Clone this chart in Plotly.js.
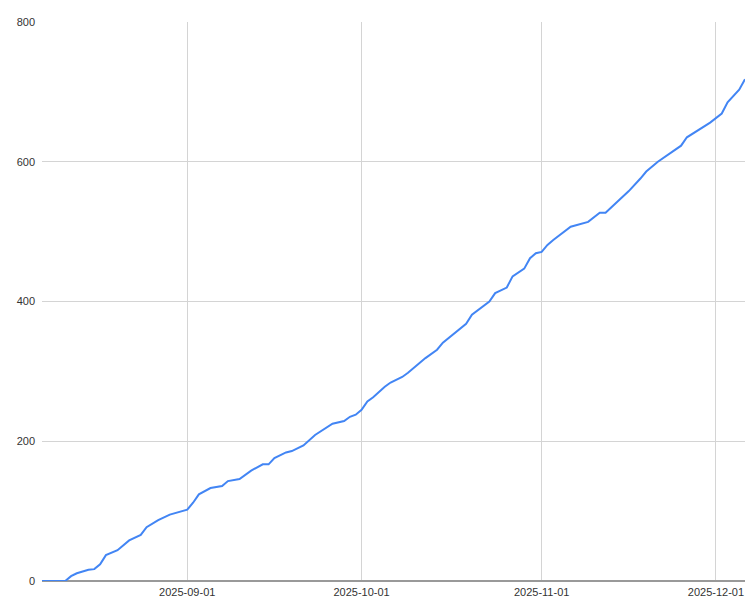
<!DOCTYPE html>
<html>
<head>
<meta charset="utf-8">
<script src="https://cdn.plot.ly/plotly-3.0.1.min.js"></script>
<style>
  html, body { margin: 0; padding: 0; background: #fff; }
  #plotly { width: 750px; height: 606px; }
</style>
</head>
<body>
<div id="plotly"></div>
<script>
// Cumulative count
var dates = [
  '2025-08-07', '2025-08-11', '2025-08-12', '2025-08-13', '2025-08-15', '2025-08-16',
  '2025-08-17', '2025-08-18', '2025-08-20', '2025-08-22', '2025-08-24', '2025-08-25',
  '2025-08-27', '2025-08-29', '2025-09-01', '2025-09-02', '2025-09-03', '2025-09-05',
  '2025-09-07', '2025-09-08', '2025-09-10', '2025-09-12', '2025-09-14', '2025-09-15',
  '2025-09-16', '2025-09-18', '2025-09-19', '2025-09-21', '2025-09-23', '2025-09-26',
  '2025-09-28', '2025-09-29', '2025-09-30', '2025-10-01', '2025-10-02', '2025-10-03',
  '2025-10-05', '2025-10-06', '2025-10-08', '2025-10-09', '2025-10-12', '2025-10-14',
  '2025-10-15', '2025-10-17', '2025-10-18', '2025-10-19', '2025-10-20', '2025-10-23',
  '2025-10-24', '2025-10-26', '2025-10-27', '2025-10-29', '2025-10-30', '2025-10-31',
  '2025-11-01', '2025-11-02', '2025-11-03', '2025-11-05', '2025-11-06', '2025-11-09',
  '2025-11-11', '2025-11-12', '2025-11-14', '2025-11-16', '2025-11-18', '2025-11-19',
  '2025-11-21', '2025-11-23', '2025-11-25', '2025-11-26', '2025-11-28', '2025-11-30',
  '2025-12-02', '2025-12-03', '2025-12-05', '2025-12-06'
];
var counts = [
  0, 0, 7, 11, 16, 17,
  24, 37, 44, 58, 66, 77,
  87, 95, 102, 112, 124, 133,
  136, 143, 146, 158, 167, 167,
  176, 184, 186, 194, 209, 225,
  229, 235, 238, 245, 257, 263,
  278, 284, 292, 298, 319, 331,
  341, 355, 361, 368, 381, 400,
  412, 420, 436, 447, 462, 469,
  471, 481, 488, 501, 507, 514,
  527, 527, 543, 558, 576, 586,
  600, 612, 623, 635, 646, 656,
  669, 685, 703, 718
];
var yTicks = [0, 200, 400, 600, 800];

var trace = {
  x: dates,
  y: counts,
  type: 'scatter',
  mode: 'lines',
  line: { color: '#4285f4', width: 2 },
  hoverinfo: 'x+y'
};

var layout = {
  width: 750,
  height: 606,
  showlegend: false,
  paper_bgcolor: '#fff',
  plot_bgcolor: '#fff',
  font: { family: 'Liberation Sans, Arial, sans-serif', size: 11, color: '#333' },
  margin: { l: 42, r: 5, t: 22, b: 25, pad: 0 },
  xaxis: {
    type: 'date',
    range: [dates[0], dates[dates.length - 1]],
    tick0: '2025-09-01',
    dtick: 'M1',
    tickformat: '%Y-%m-%d',
    showgrid: true,
    gridcolor: '#d4d4d4',
    gridwidth: 1,
    zeroline: false,
    showline: false,
    ticks: '',
    ticklabelstandoff: 3,
    tickfont: { size: 11, color: '#333' }
  },
  yaxis: {
    range: [yTicks[0], yTicks[yTicks.length - 1]],
    tickvals: yTicks,
    showgrid: true,
    gridcolor: '#d4d4d4',
    gridwidth: 1,
    zeroline: true,
    zerolinecolor: '#999',
    zerolinewidth: 1.5,
    showline: false,
    ticks: '',
    ticklabelstandoff: 6,
    tickfont: { size: 11, color: '#333' }
  }
};

Plotly.newPlot('plotly', [trace], layout, { staticPlot: true, displayModeBar: false });
</script>
</body>
</html>
